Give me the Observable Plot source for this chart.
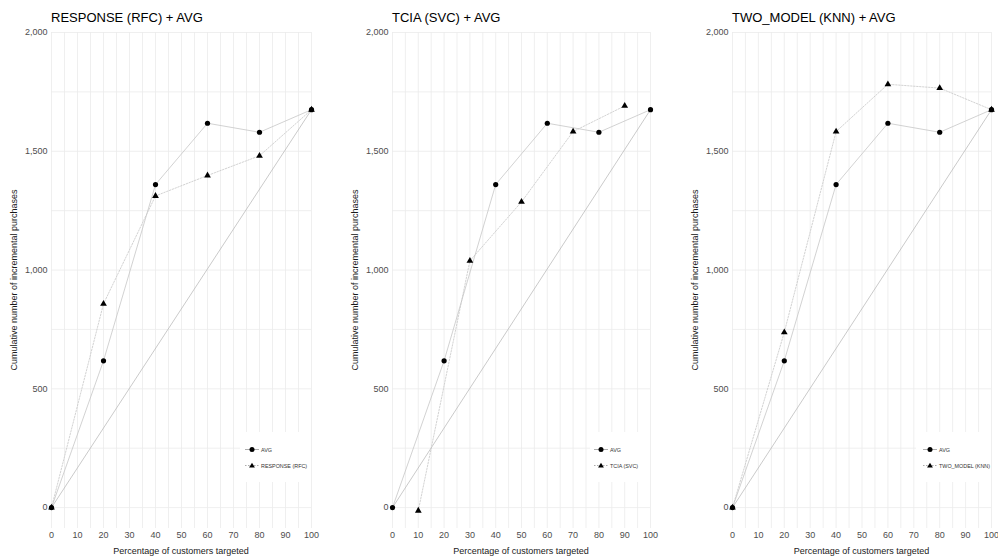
<!DOCTYPE html>
<html><head><meta charset="utf-8">
<script src="https://cdn.jsdelivr.net/npm/d3@7"></script>
<script src="https://cdn.jsdelivr.net/npm/@observablehq/plot@0.6"></script>
<style>
body{margin:0;background:#fff;font-family:"Liberation Sans",Arial,sans-serif;}
#wrap{position:relative;width:998px;height:558px;overflow:hidden;background:#fff}
.panel{position:absolute;top:0}
.title{position:absolute;top:10px;font-size:13px;color:#000;white-space:nowrap}
.xlab{position:absolute;top:546px;font-size:9px;color:#1a1a1a;white-space:nowrap;transform:translateX(-50%)}
.ylab{position:absolute;font-size:9px;color:#1a1a1a;white-space:nowrap;transform:translate(-50%,-50%) rotate(-90deg)}
.legend{position:absolute;background:#fff;overflow:visible}
</style>
</head><body><div id="wrap"></div>
<script>
// ---- data ----
const xTicks = [0,10,20,30,40,50,60,70,80,90,100];
const yTicks = [0,500,1000,1500,2000];
const avgX = [0,20,40,60,80,100];
const avgY = [0,618,1360,1618,1580,1675];
const rfcX = [0,20,40,60,80,100];
const rfcY = [0,858,1312,1398,1481,1675];
const svcX = [10,30,50,70,90];
const svcY = [-13,1039,1287,1583,1691];
const knnX = [0,20,40,60,80,100];
const knnY = [0,738,1583,1782,1766,1675];
const randX = [0,100];
const randY = [0,1675];
const titles = ["RESPONSE (RFC) + AVG","TCIA (SVC) + AVG","TWO_MODEL (KNN) + AVG"];
const modelNames = ["RESPONSE (RFC)","TCIA (SVC)","TWO_MODEL (KNN)"];
const xTitle = "Percentage of customers targeted";
const yTitle = "Cumulative number of incremental purchases";

const wrap = document.getElementById("wrap");
const H = 558, W = 330, MT = 32, MB = 30;
const zip = (xs, ys) => xs.map((x,i)=>({x, y: ys[i]}));
const gridX = d3.range(0,101,5);
const gridY = d3.range(0,2001,250);

const panels = [
  {left:0, ml:51, mr:19, model: zip(rfcX,rfcY), legX:240, legW:71, symX:252},
  {left:340, ml:52, mr:20, model: zip(svcX,svcY), legX:590, legW:60, symX:601},
  {left:668, ml:64, mr:7, model: zip(knnX,knnY), legX:916, legW:75, symX:930}
];

panels.forEach((p, i) => {
  const avg = zip(avgX, avgY);
  const rand = zip(randX, randY);
  const plot = Plot.plot({
    width: W, height: H,
    marginLeft: p.ml, marginRight: p.mr, marginTop: MT, marginBottom: MB,
    style: {fontFamily: '"Liberation Sans", Arial, sans-serif', fontSize: "9px", color: "#4d4d4d", background: "#fff"},
    x: {domain: [0,100]},
    y: {domain: [-88,2000]},
    marks: [
      Plot.ruleX(gridX, {stroke: "#ebebeb", strokeWidth: 0.8}),
      Plot.ruleY(gridY, {stroke: "#ebebeb", strokeWidth: 0.8}),
      Plot.axisX({ticks: xTicks, tickSize: 0, tickPadding: 3, label: null}),
      Plot.axisY({ticks: yTicks, tickSize: 0, tickPadding: 4, tickFormat: d3.format(","), label: null}),
      Plot.line(rand, {x: "x", y: "y", stroke: "#b3b3b3", strokeWidth: 0.7}),
      Plot.line(avg, {x: "x", y: "y", stroke: "#c6c6c6", strokeWidth: 0.8}),
      Plot.line(p.model, {x: "x", y: "y", stroke: "#c6c6c6", strokeWidth: 0.8, strokeDasharray: "1.5,1.5"}),
      Plot.dot(p.model, {x: "x", y: "y", r: 2.5, fill: "#000", stroke: "none", symbol: "triangle"}),
      Plot.dot(avg, {x: "x", y: "y", r: 2.6, fill: "#000", stroke: "none", symbol: "circle"})
    ]
  });
  plot.classList.add("panel");
  plot.style.left = p.left + "px";
  wrap.appendChild(plot);

  const t = document.createElement("div");
  t.className = "title"; t.textContent = titles[i];
  t.style.left = (p.left + p.ml) + "px";
  wrap.appendChild(t);

  const xl = document.createElement("div");
  xl.className = "xlab"; xl.textContent = xTitle;
  xl.style.left = (p.left + (p.ml + W - p.mr) / 2) + "px";
  wrap.appendChild(xl);

  const yl = document.createElement("div");
  yl.className = "ylab"; yl.textContent = yTitle;
  yl.style.left = (p.left + p.ml - 37) + "px";
  yl.style.top = (MT + (H - MT - MB) / 2) + "px";
  wrap.appendChild(yl);

  // legend
  const lg = document.createElementNS("http://www.w3.org/2000/svg", "svg");
  const lw = p.legW, lh = 50;
  lg.setAttribute("width", lw); lg.setAttribute("height", lh);
  lg.setAttribute("class", "legend");
  lg.style.left = p.legX + "px"; lg.style.top = "432px";
  const sx = p.symX - p.legX;
  const entries = [
    {name: "AVG", dash: null, sym: "circle", y: 17.5},
    {name: modelNames[i], dash: "1.5,1.5", sym: "triangle", y: 33.5}
  ];
  let html = `<rect width="${lw}" height="${lh}" fill="#fff"/>`;
  entries.forEach(e => {
    html += `<line x1="${sx-7}" x2="${sx+7}" y1="${e.y}" y2="${e.y}" stroke="#888" stroke-width="0.7" ${e.dash ? `stroke-dasharray="${e.dash}"` : ""}/>`;
    if (e.sym === "circle") html += `<circle cx="${sx}" cy="${e.y}" r="2.5" fill="#000"/>`;
    else html += `<path d="M${sx},${e.y-2.8}L${sx+2.9},${e.y+2}L${sx-2.9},${e.y+2}Z" fill="#000"/>`;
    html += `<text x="${sx+9}" y="${e.y+2}" font-size="5.4" fill="#333" font-family="Liberation Sans, Arial, sans-serif">${e.name}</text>`;
  });
  lg.innerHTML = html;
  wrap.appendChild(lg);
});
</script>
</body></html>
